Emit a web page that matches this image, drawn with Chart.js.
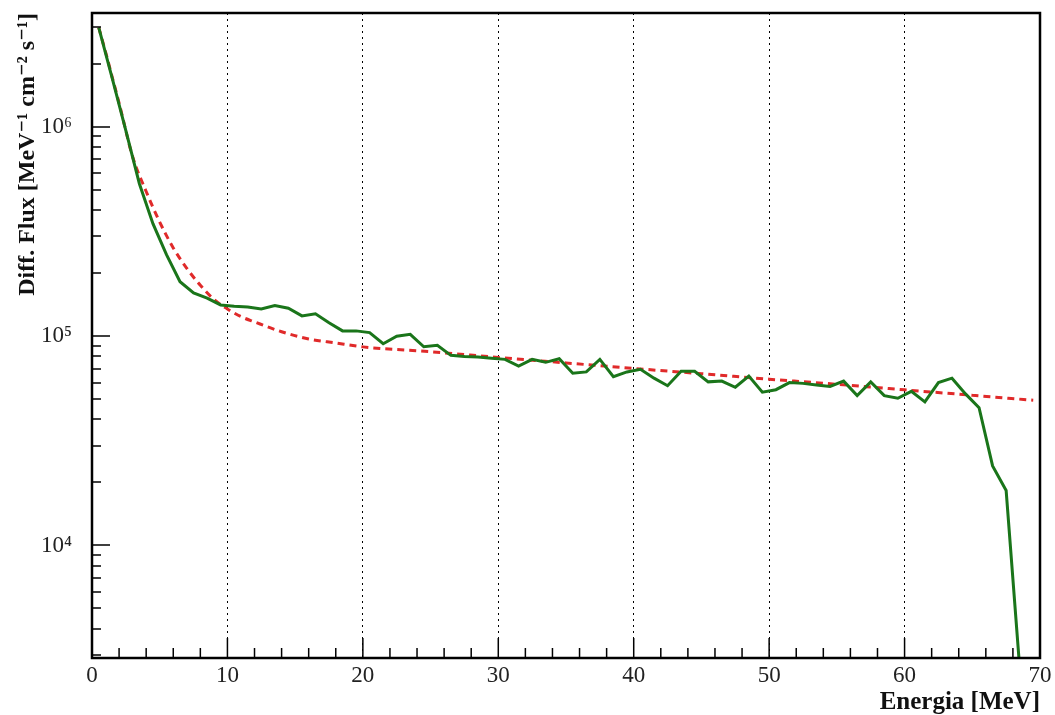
<!DOCTYPE html>
<html>
<head>
<meta charset="utf-8">
<script src="https://cdn.jsdelivr.net/npm/chart.js@4"></script>
<style>
  body { margin: 0; background: #fff; }
  canvas { display: block; }
</style>
</head>
<body>
<canvas id="fluxChart" width="1055" height="715"></canvas>
<script>
// measured spectrum, 1 MeV bins (bin centres)
const binCenters = [
  0.5, 1.5, 2.5, 3.5, 4.5, 5.5, 6.5, 7.5, 8.5, 9.5,
  10.5, 11.5, 12.5, 13.5, 14.5, 15.5, 16.5, 17.5, 18.5, 19.5,
  20.5, 21.5, 22.5, 23.5, 24.5, 25.5, 26.5, 27.5, 28.5, 29.5,
  30.5, 31.5, 32.5, 33.5, 34.5, 35.5, 36.5, 37.5, 38.5, 39.5,
  40.5, 41.5, 42.5, 43.5, 44.5, 45.5, 46.5, 47.5, 48.5, 49.5,
  50.5, 51.5, 52.5, 53.5, 54.5, 55.5, 56.5, 57.5, 58.5, 59.5,
  60.5, 61.5, 62.5, 63.5, 64.5, 65.5, 66.5, 67.5, 68.5
];
const measuredFlux = [
  2.98e6, 1.70e6, 9.6e5, 5.35e5, 3.45e5, 2.45e5, 1.82e5, 1.61e5, 1.52e5, 1.41e5,
  1.39e5, 1.38e5, 1.35e5, 1.40e5, 1.36e5, 1.25e5, 1.28e5, 1.16e5, 1.06e5, 1.06e5,
  1.04e5, 9.2e4, 1.0e5, 1.02e5, 8.9e4, 9.05e4, 8.1e4, 8.0e4, 7.95e4, 7.85e4,
  7.75e4, 7.2e4, 7.75e4, 7.5e4, 7.8e4, 6.65e4, 6.75e4, 7.75e4, 6.4e4, 6.75e4,
  6.95e4, 6.3e4, 5.8e4, 6.8e4, 6.8e4, 6.05e4, 6.1e4, 5.7e4, 6.45e4, 5.4e4,
  5.55e4, 6.0e4, 5.95e4, 5.85e4, 5.75e4, 6.1e4, 5.2e4, 6.05e4, 5.2e4, 5.05e4,
  5.45e4, 4.85e4, 6.0e4, 6.3e4, 5.3e4, 4.55e4, 2.4e4, 1.83e4, 2.6e3
];

// fitted curve (red dashed)
const fitEnergy = [0.5, 1, 1.5, 2, 3, 4, 5, 6, 7, 8, 9, 10, 11, 12, 14, 16, 18, 20, 25, 30, 35, 40, 45, 50, 55, 60, 65, 69.5];
const fitFlux = [
  2.98e6, 2.28e6, 1.72e6, 1.30e6, 7.2e5, 4.91e5, 3.51e5, 2.64e5, 2.11e5, 1.75e5,
  1.50e5, 1.35e5, 1.24e5, 1.17e5, 1.05e5, 9.7e4, 9.28e4, 8.89e4, 8.43e4, 7.91e4,
  7.45e4, 7.01e4, 6.62e4, 6.23e4, 5.89e4, 5.54e4, 5.22e4, 4.94e4
];

const yLabelValues = [1e4, 1e5, 1e6];
const sup = { 4: '\u2074', 5: '\u2075', 6: '\u2076' };

// ROOT-like frame with inward tick marks
const frameTicks = {
  id: 'frameTicks',
  afterDraw(chart) {
    const { ctx, chartArea: a, scales: { x, y } } = chart;
    ctx.save();
    ctx.strokeStyle = '#000';
    ctx.lineWidth = 1.5;
    ctx.beginPath();
    for (let e = 2; e < 70; e += 2) {
      const px = x.getPixelForValue(e);
      const len = e % 10 === 0 ? 20 : 10;
      ctx.moveTo(px, a.bottom);
      ctx.lineTo(px, a.bottom - len);
    }
    for (let d = 3; d <= 6; d++) {
      for (let m = 1; m <= 9; m++) {
        const v = m * Math.pow(10, d);
        if (v < y.min || v > y.max) continue;
        const py = Math.round(y.getPixelForValue(v));
        ctx.moveTo(a.left, py);
        ctx.lineTo(a.left + (m === 1 ? 18 : 9), py);
      }
    }
    ctx.stroke();
    ctx.lineWidth = 2.5;
    ctx.strokeRect(a.left, a.top, a.right - a.left, a.bottom - a.top);
    ctx.restore();
  }
};

const serif = '"Liberation Serif", "DejaVu Serif", serif';

new Chart(document.getElementById('fluxChart'), {
  type: 'line',
  data: {
    datasets: [
      {
        label: 'Misura',
        data: binCenters.map((e, i) => ({ x: e, y: measuredFlux[i] })),
        borderColor: '#1a751a',
        borderWidth: 3,
        pointRadius: 0,
        tension: 0
      },
      {
        label: 'Fit',
        data: fitEnergy.map((e, i) => ({ x: e, y: fitFlux[i] })),
        borderColor: '#e02a2a',
        borderWidth: 3,
        borderDash: [7, 5],
        pointRadius: 0,
        cubicInterpolationMode: 'monotone'
      }
    ]
  },
  options: {
    responsive: false,
    animation: false,
    devicePixelRatio: 1,
    layout: { padding: { top: 13, right: 15, left: 0, bottom: 0 } },
    plugins: { legend: { display: false }, tooltip: { enabled: false } },
    scales: {
      x: {
        type: 'linear',
        min: 0,
        max: 70,
        afterFit(scale) {
          scale.height = 57;
          scale.paddingLeft = 0;
          scale.paddingRight = 0;
        },
        ticks: {
          stepSize: 10,
          padding: 4,
          color: '#222',
          font: { family: serif, size: 23 }
        },
        grid: {
          drawTicks: false,
          color: c => (c.tick && (c.tick.value === 0 || c.tick.value === 70)) ? 'rgba(0,0,0,0)' : '#000',
          lineWidth: 1
        },
        border: { display: false, dash: [2, 4] },
        title: {
          display: true,
          text: 'Energia [MeV]',
          align: 'end',
          color: '#111',
          font: { family: serif, size: 25, weight: 'bold', lineHeight: 1 },
          padding: { top: 0, bottom: 0 }
        }
      },
      y: {
        type: 'logarithmic',
        min: 2900,
        max: 3.5e6,
        afterFit(scale) {
          scale.width = 92;
          scale.paddingTop = 0;
          scale.paddingBottom = 0;
        },
        afterBuildTicks(scale) {
          scale.ticks = yLabelValues.map(v => ({ value: v }));
        },
        ticks: {
          autoSkip: false,
          padding: 20,
          color: '#222',
          font: { family: serif, size: 23 },
          callback: v => '10' + sup[Math.round(Math.log10(v))]
        },
        grid: { display: false, drawTicks: false },
        border: { display: false },
        title: {
          display: true,
          text: 'Diff. Flux [MeV\u207B\u00B9 cm\u207B\u00B2 s\u207B\u00B9]',
          align: 'end',
          color: '#111',
          font: { family: serif, size: 24, weight: 'bold', lineHeight: 1 },
          padding: { top: 16, bottom: 0 }
        }
      }
    }
  },
  plugins: [frameTicks]
});
</script>
</body>
</html>
